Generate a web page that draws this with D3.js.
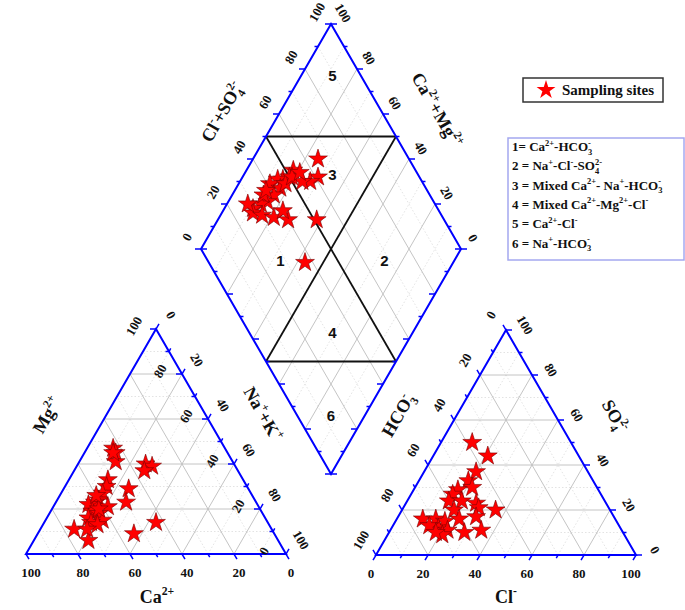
<!DOCTYPE html>
<html>
<head>
<meta charset="utf-8">
<script src="https://cdn.jsdelivr.net/npm/d3@7"></script>
<style>
  body { margin: 0; background: #fff; }
  text { font-family: 'Times New Roman', 'Liberation Serif', serif; font-weight: bold; }
</style>
</head>
<body>
<svg id="chart" width="685" height="610"></svg>
<script>
// cation triangle, [Ca %, Mg %]  (Na+K = rest)
const cations = [
  [43,47],[43,45],[45,41],[44,45],[34,40],[32,39],[36,37],[46,29],[50,23],[43,14],
  [54,9],[76,11],[73,6],[52,33],[54,30],[57,27],[60,24],[62,23],[65,22],[58,21],
  [65,19],[63,18],[68,16],[63,15],[68,14],[66,13],[71,11],[62,20],[60,26]
];
// anion triangle, [Cl %, SO4 %]  (HCO3 = rest)
const anions = [
  [12,50],[21,44],[20,37],[19,33],[22,30],[17,29],[16,27],[16,24],[21,24],[27,23],
  [36,20],[29,21],[20,20],[30,17],[10,16],[15,16],[19,15],[24,16],[18,12],[14,13],
  [22,11],[29,10],[35,11],[21,9],[18,10]
];
// diamond, [Cl+SO4 %, Na+K %]
const diamondPts = [
  [65,25],[61,29],[57,27],[54,24],[53,18],[50,18],[47,16],[45,14],[41,12],[44,17],
  [40,16],[36,15],[33,13],[29,11],[28,12],[31,16],[35,21],[40,27],[40,23],[51,38],
  [37,43],[47,18],[51,19],[36,12],[28,8],[38,12],[55,21]
];
const tickVals = d3.range(0, 101, 10);
const labelVals = [0, 20, 40, 60, 80, 100];
const zoneLabels = [
  {id: '5', a: 89, b: 12}, {id: '3', a: 67, b: 34}, {id: '1', a: 28, b: 33},
  {id: '2', a: 68, b: 73}, {id: '4', a: 32, b: 69}, {id: '6', a: 13, b: 87}
];
const facies = [
  '1= Ca^{2+}-HCO_{3}^{-}',
  '2 = Na^{+}-Cl^{-}-SO_{4}^{2-}',
  '3 = Mixed Ca^{2+}- Na^{+}-HCO_{3}^{-}',
  '4 = Mixed Ca^{2+}-Mg^{2+}-Cl^{-}',
  '5 = Ca^{2+}-Cl^{-}',
  '6 = Na^{+}-HCO_{3}^{-}'
];

const svg = d3.select('#chart');
const blue = '#0000ff';

// scales
const ltX = d3.scaleLinear().domain([0, 100]).range([26, 286]);
const ltY = d3.scaleLinear().domain([0, 100]).range([554, 329]);
const rtX = d3.scaleLinear().domain([0, 100]).range([376, 636]);
const rtY = d3.scaleLinear().domain([0, 100]).range([555, 330]);
const dX = d3.scaleLinear().domain([0, 200]).range([201, 461]);
const dY = d3.scaleLinear().domain([-100, 100]).range([24, 474]);

const cPt = (ca, mg) => [ltX(100 - ca - mg + mg / 2), ltY(mg)];
const aPt = (cl, so4) => [rtX(cl + so4 / 2), rtY(so4)];
const dPt = (a, b) => [dX(a + b), dY(b - a)];

// superscript / subscript text
function richText(sel, str, fs) {
  const parts = str.match(/\^\{[^}]*\}|_\{[^}]*\}|[^^_]+/g);
  let shift = 0, prevSub = 0;
  parts.forEach(p => {
    let kind = 'n', t = p;
    if (p.startsWith('^{')) { kind = 'sup'; t = p.slice(2, -1); }
    else if (p.startsWith('_{')) { kind = 'sub'; t = p.slice(2, -1); }
    const target = kind === 'sup' ? -0.42 * fs : kind === 'sub' ? 0.28 * fs : 0;
    const ts = sel.append('tspan')
      .attr('dy', target - shift)
      .attr('font-size', kind === 'n' ? fs : 0.65 * fs)
      .text(t);
    if (kind === 'sup' && prevSub) ts.attr('dx', -prevSub * 0.32 * fs);
    prevSub = kind === 'sub' ? t.length : 0;
    shift = target;
  });
}

const gGrid = svg.append('g');
const line = (g, p, q, major) => g.append('line')
  .attr('x1', p[0]).attr('y1', p[1]).attr('x2', q[0]).attr('y2', q[1])
  .attr('stroke', major ? '#bdbdbd' : '#dcdcdc')
  .attr('stroke-width', major ? 0.9 : 0.8)
  .attr('stroke-dasharray', major ? null : '1.5,2');

d3.range(10, 100, 10).forEach(v => {
  const major = v % 20 === 0;
  // cations
  line(gGrid, cPt(100 - v, v), cPt(0, v), major);
  line(gGrid, cPt(v, 0), cPt(v, 100 - v), major);
  line(gGrid, cPt(100 - v, 0), cPt(0, 100 - v), major);
  // anions
  line(gGrid, aPt(0, v), aPt(100 - v, v), major);
  line(gGrid, aPt(v, 0), aPt(v, 100 - v), major);
  line(gGrid, aPt(100 - v, 0), aPt(0, 100 - v), major);
  // diamond
  line(gGrid, dPt(v, 0), dPt(v, 100), major);
  line(gGrid, dPt(0, v), dPt(100, v), major);
});

// facies boundaries
const gFac = svg.append('g').attr('stroke', '#111').attr('stroke-width', 1.8).attr('fill', 'none');
[[dPt(50, 0), dPt(50, 100)], [dPt(0, 50), dPt(100, 50)],
 [dPt(50, 0), dPt(100, 50)], [dPt(0, 50), dPt(50, 100)]].forEach(([p, q]) =>
  gFac.append('line').attr('x1', p[0]).attr('y1', p[1]).attr('x2', q[0]).attr('y2', q[1]));

// outlines
const gOut = svg.append('g').attr('stroke', blue).attr('stroke-width', 2).attr('fill', 'none');
gOut.append('path').attr('d', d3.line()([cPt(100, 0), cPt(0, 0), cPt(0, 100)]) + 'Z');
gOut.append('path').attr('d', d3.line()([aPt(0, 0), aPt(100, 0), aPt(0, 100)]) + 'Z');
gOut.append('path').attr('d', d3.line()([dPt(0, 0), dPt(100, 0), dPt(100, 100), dPt(0, 100)]) + 'Z');

// ticks
const s3 = Math.sqrt(3) / 2;
const axes = [
  {pt: v => cPt(0, v), dir: [-1, 0]},            // Mg
  {pt: v => cPt(v, 0), dir: [0.5, s3]},          // Ca
  {pt: v => cPt(0, 100 - v), dir: [0.5, -s3]},   // Na+K
  {pt: v => aPt(0, 100 - v), dir: [-0.5, -s3]},  // HCO3
  {pt: v => aPt(v, 0), dir: [-0.5, s3]},         // Cl
  {pt: v => aPt(100 - v, v), dir: [1, 0]},       // SO4
  {pt: v => dPt(v, 0), dir: [-1, 0]},            // Cl+SO4
  {pt: v => dPt(100, 100 - v), dir: [1, 0]},     // Ca+Mg
  {pt: v => dPt(0, v), dir: [1, 0]},
  {pt: v => dPt(v, 100), dir: [-1, 0]}
];
const gTick = svg.append('g').attr('stroke', blue).attr('stroke-width', 1.5);
axes.forEach(ax => tickVals.forEach(v => {
  const p = ax.pt(v), len = v % 20 === 0 ? 6 : 3.5;
  gTick.append('line').attr('x1', p[0]).attr('y1', p[1])
    .attr('x2', p[0] + ax.dir[0] * len).attr('y2', p[1] + ax.dir[1] * len);
}));

// tick labels
const tickLab = [
  {pt: v => cPt(v, 0), off: [5, 18], rot: 0},
  {pt: v => cPt(0, v), off: [-22, -3], rot: -60},
  {pt: v => cPt(0, 100 - v), off: [15, -14], rot: 60},
  {pt: v => aPt(v, 0), off: [-5, 18], rot: 0},
  {pt: v => aPt(0, 100 - v), off: [-15, -15], rot: -60},
  {pt: v => aPt(100 - v, v), off: [19, -5], rot: 60},
  {pt: v => dPt(v, 0), off: [-14, -12], rot: -60},
  {pt: v => dPt(100, 100 - v), off: [12, -11], rot: 60}
];
const gLab = svg.append('g').attr('font-size', 13).attr('fill', '#111');
tickLab.forEach(ax => labelVals.forEach(v => {
  const p = ax.pt(v);
  gLab.append('text')
    .attr('transform', `translate(${p[0] + ax.off[0]},${p[1] + ax.off[1]}) rotate(${ax.rot})`)
    .attr('text-anchor', 'middle').attr('dy', '0.35em').text(v);
}));

// axis titles
const titles = [
  {t: 'Mg^{2+}', x: 47, y: 415, rot: -60},
  {t: 'Na^{+}+K^{+}', x: 263, y: 414, rot: 60},
  {t: 'Ca^{2+}', x: 157, y: 597, rot: 0},
  {t: 'HCO_{3}^{-}', x: 398, y: 415, rot: -60},
  {t: 'SO_{4}^{2-}', x: 615, y: 416, rot: 60},
  {t: 'Cl^{-}', x: 506, y: 597, rot: 0},
  {t: 'Cl^{-}+SO_{4}^{2-}', x: 222, y: 112, rot: -60},
  {t: 'Ca^{2+}+Mg^{2+}', x: 437, y: 110, rot: 60}
];
titles.forEach(d => {
  const t = svg.append('text').attr('text-anchor', 'middle').attr('fill', '#111')
    .attr('transform', `translate(${d.x},${d.y}) rotate(${d.rot}) translate(0,6)`);
  richText(t, d.t, 18);
});

// zone numbers
svg.append('g').selectAll('text').data(zoneLabels).join('text')
  .attr('x', d => dPt(d.a, d.b)[0]).attr('y', d => dPt(d.a, d.b)[1])
  .attr('dy', '0.36em').attr('text-anchor', 'middle')
  .style('font-family', "Arial, 'Liberation Sans', sans-serif")
  .attr('font-size', 15).attr('fill', '#111').text(d => d.id);

// stars
const star = d3.symbol(d3.symbolStar, 110);
const gStar = svg.append('g').attr('fill', '#ff0000').attr('stroke', '#7a0000').attr('stroke-width', 0.6);
cations.forEach(d => { const p = cPt(d[0], d[1]);
  gStar.append('path').attr('d', star).attr('transform', `translate(${p[0]},${p[1]})`); });
anions.forEach(d => { const p = aPt(d[0], d[1]);
  gStar.append('path').attr('d', star).attr('transform', `translate(${p[0]},${p[1]})`); });
diamondPts.forEach(d => { const p = dPt(d[0], d[1]);
  gStar.append('path').attr('d', star).attr('transform', `translate(${p[0]},${p[1]})`); });

// legend: sampling sites
svg.append('rect').attr('x', 523).attr('y', 78).attr('width', 140).attr('height', 24)
  .attr('fill', '#fff').attr('stroke', '#333').attr('stroke-width', 1.5);
svg.append('path').attr('d', d3.symbol(d3.symbolStar, 110))
  .attr('transform', 'translate(546,90)').attr('fill', '#ff0000');
svg.append('text').attr('x', 562).attr('y', 95).attr('font-size', 15).attr('fill', '#111')
  .text('Sampling sites');

// legend: facies
svg.append('rect').attr('x', 508).attr('y', 138).attr('width', 176).attr('height', 122)
  .attr('fill', '#fff').attr('stroke', '#a4a8f0').attr('stroke-width', 1.5);
facies.forEach((f, i) => {
  const t = svg.append('text').attr('x', 512).attr('y', 151 + i * 19.3)
    .attr('font-size', 13).attr('fill', '#111');
  richText(t, f, 13);
});
</script>
</body>
</html>
